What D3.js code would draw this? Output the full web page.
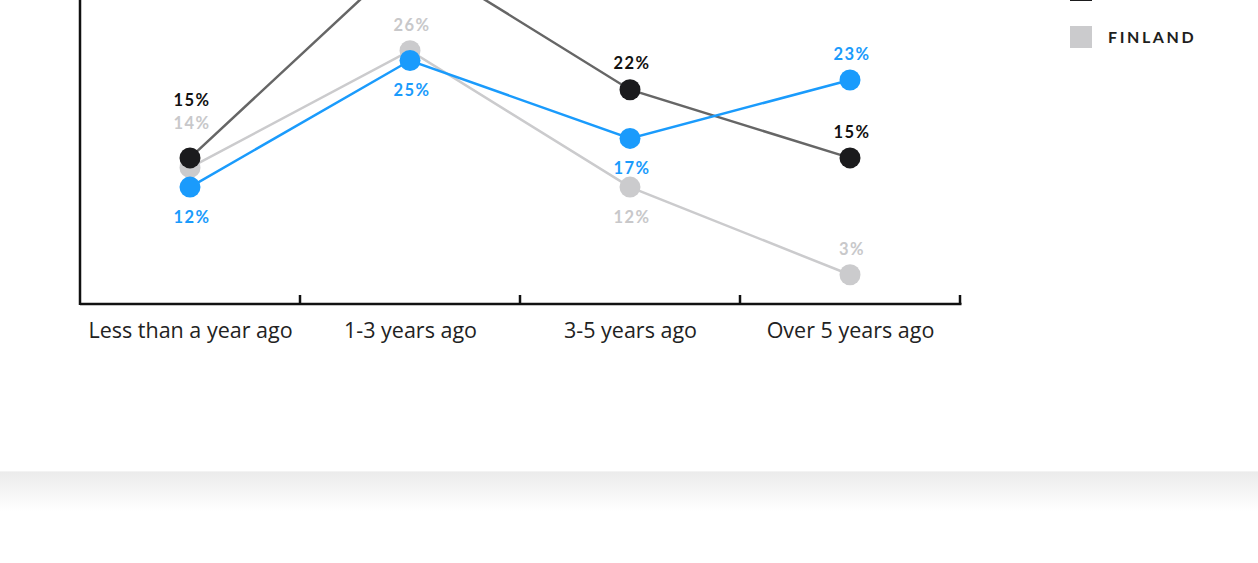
<!DOCTYPE html>
<html><head><meta charset="utf-8">
<script src="https://cdn.jsdelivr.net/npm/d3@7"></script>
<style>
html,body{margin:0;padding:0;background:#fff;overflow:hidden;}
svg{display:block;}
</style></head>
<body>
<script>
// ---- data ----
const categories = ["Less than a year ago", "1-3 years ago", "3-5 years ago", "Over 5 years ago"];
const seriesNames = ["GLOBAL", "NORDICS", "FINLAND"];
const valuesBlue = [12, 25, 17, 23];
const valuesDark = [15, 36, 22, 15];
const valuesGray = [14, 26, 12, 3];
// label placement per point (presentation only)
const placeBlue = ["below", "below", "below", "above"];
const placeDark = ["above3", "above", "above", "above"];
const placeGray = ["above2", "above", "below", "above"];

const W = 1258, H = 563;
const svg = d3.select("body").append("svg").attr("width", W).attr("height", H);

// bottom gradient band
const defs = svg.append("defs");
const g1 = defs.append("linearGradient").attr("id","band").attr("x1",0).attr("x2",0).attr("y1",0).attr("y2",1);
g1.append("stop").attr("offset","0%").attr("stop-color","#ebebeb");
g1.append("stop").attr("offset","100%").attr("stop-color","#ffffff");
svg.append("rect").attr("x",0).attr("y",471).attr("width",W).attr("height",40).attr("fill","url(#band)");
svg.append("rect").attr("x",0).attr("y",471).attr("width",W).attr("height",1).attr("fill","#f3f3f3");

const x = d3.scalePoint().domain(categories).range([80, 960]).padding(0.5);
const y = d3.scaleLinear().domain([0, 40]).range([304, 304 - 389.6]);

const series = [
  {name: seriesNames[2], values: valuesGray, place: placeGray, line: "#cbcbcd", dot: "#cbcbcd", label: "#c8c8ca"},
  {name: seriesNames[1], values: valuesDark, place: placeDark, line: "#666666", dot: "#1b1b1d", label: "#111111"},
  {name: seriesNames[0], values: valuesBlue, place: placeBlue, line: "#1a9bfc", dot: "#1a9bfc", label: "#1a9bfc"}
];

// axes
const xAxis = d3.axisBottom(x).tickSize(0).tickPadding(21);
const gx = svg.append("g").attr("transform","translate(0,304)").call(xAxis);
gx.select(".domain").remove();
gx.selectAll("text").attr("font-family","'Open Sans', sans-serif").attr("font-size","21.5px").attr("fill","#222").attr("dy","0.6em");
// axis lines
svg.append("line").attr("x1",80).attr("x2",961.5).attr("y1",304).attr("y2",304).attr("stroke","#111").attr("stroke-width",2.5);
svg.append("line").attr("x1",80).attr("x2",80).attr("y1",-10).attr("y2",305).attr("stroke","#111").attr("stroke-width",2.5);
// boundary ticks between bands
const step = x.step();
const bounds = categories.slice(1).map(c => x(c) - step/2).concat([x(categories[categories.length-1]) + step/2]);
svg.selectAll(".btick").data(bounds).enter().append("line")
  .attr("x1", d => d).attr("x2", d => d).attr("y1", 295).attr("y2", 304)
  .attr("stroke","#111").attr("stroke-width",2.5);

const line = d3.line().x((d,i) => x(categories[i])).y(d => y(d));

series.forEach(s => {
  svg.append("path").datum(s.values).attr("d", line).attr("fill","none")
    .attr("stroke", s.line).attr("stroke-width", 2.5);
});
series.forEach(s => {
  svg.selectAll(null).data(s.values).enter().append("circle")
    .attr("cx", (d,i) => x(categories[i])).attr("cy", d => y(d)).attr("r", 10.5)
    .attr("fill", s.dot);
});
const off = {above: -26, below: 30, above2: -44, above3: -58};
series.forEach(s => {
  const pts = s.values.map((v, i) => ({v, i})).filter(p => y(p.v) + off[s.place[p.i]] > 8);
  svg.selectAll(null).data(pts).enter().append("text")
    .attr("x", p => x(categories[p.i]) + 2).attr("y", p => y(p.v) + off[s.place[p.i]])
    .attr("dy","0.35em").attr("text-anchor","middle")
    .attr("font-family","Lato, sans-serif").attr("font-weight","700").attr("font-size","16.5px")
    .attr("letter-spacing","1.5px").attr("fill", s.label)
    .text(p => p.v + "%");
});

// legend (upper items lie above the visible area)
const legendColors = ["#1a9bfc", "#1b1b1d", "#cbcbcd"];
const lg = svg.append("g");
seriesNames.forEach((n, i) => {
  const ty = 26 - (2 - i) * 47;
  lg.append("rect").attr("x",1070).attr("y",ty).attr("width",22).attr("height",22).attr("fill",legendColors[i]);
  if (ty >= 0) {
    lg.append("text").attr("x",1108).attr("y",ty + 11).attr("dy","0.36em")
      .attr("font-family","Lato, sans-serif").attr("font-weight","700").attr("font-size","16px")
      .attr("letter-spacing","2.6px").attr("fill","#1e1e20").text(n);
  }
});
</script>
</body></html>
